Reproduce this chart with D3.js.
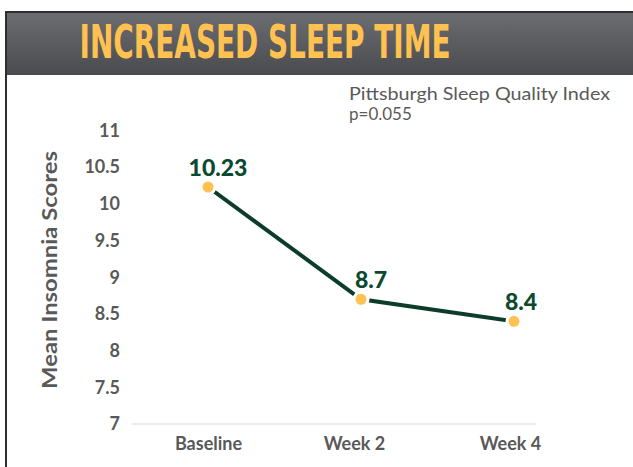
<!DOCTYPE html>
<html>
<head>
<meta charset="utf-8">
<script src="https://cdn.jsdelivr.net/npm/d3@7"></script>
<style>
  body { margin: 0; background: #fff; }
  svg { display: block; }
</style>
</head>
<body>
<svg id="chart" width="633" height="467"></svg>
<script>
// data
const weeks = ["Baseline", "Week 2", "Week 4"]
const scores = [10.23, 8.7, 8.4]
const score_labels = ["10.23", "8.7", "8.4"]
const y_ticks = [7, 7.5, 8, 8.5, 9, 9.5, 10, 10.5, 11]

const svg = d3.select("#chart")
const grey_text = "#595959"
const dark_green = "#0b4a2f"
const yellow = "#ffc14f"
const font = "Lato, 'Open Sans', sans-serif"

// banner gradient
const defs = svg.append("defs")
const grad = defs.append("linearGradient")
  .attr("id", "banner_grad")
  .attr("x1", 0).attr("y1", 0).attr("x2", 0).attr("y2", 1)
grad.append("stop").attr("offset", "0%").attr("stop-color", "#6c6d71")
grad.append("stop").attr("offset", "100%").attr("stop-color", "#4a4b4e")

svg.append("rect")
  .attr("x", 6).attr("y", 12)
  .attr("width", 627).attr("height", 63)
  .attr("fill", "url(#banner_grad)")

// frame lines
svg.append("line")
  .attr("x1", 6).attr("x2", 633).attr("y1", 12).attr("y2", 12)
  .attr("stroke", "#2e2e2e").attr("stroke-width", 2)
svg.append("line")
  .attr("x1", 6).attr("x2", 6).attr("y1", 11).attr("y2", 467)
  .attr("stroke", "#2e2e2e").attr("stroke-width", 2)

svg.append("text")
  .attr("x", 265).attr("y", 58)
  .attr("text-anchor", "middle")
  .attr("font-family", "'Liberation Sans Narrow', 'DejaVu Sans Condensed', sans-serif")
  .attr("font-stretch", "condensed")
  .attr("font-weight", "bold")
  .attr("font-size", 46)
  .attr("textLength", 371)
  .attr("lengthAdjust", "spacingAndGlyphs")
  .attr("fill", yellow)
  .text("INCREASED SLEEP TIME")

// scales
const x = d3.scalePoint().domain(weeks).range([208, 514])
const y = d3.scaleLinear().domain([7, 11]).range([424, 130.5])

// baseline axis line
svg.append("line")
  .attr("x1", 132).attr("x2", 536)
  .attr("y1", y(7)).attr("y2", y(7))
  .attr("stroke", "#d9d9d9").attr("stroke-width", 1)

// y axis
const y_axis = svg.append("g")
  .attr("transform", "translate(128,0)")
  .call(d3.axisLeft(y).tickValues(y_ticks).tickSize(0).tickPadding(8).tickFormat(d3.format("")))
y_axis.select(".domain").remove()
y_axis.selectAll("text")
  .attr("font-family", font)
  .attr("font-weight", "bold")
  .attr("font-size", 18)
  .attr("fill", grey_text)

// x axis
const x_axis = svg.append("g")
  .attr("transform", `translate(0, ${y(7)})`)
  .call(d3.axisBottom(x).tickSize(0).tickPadding(13))
x_axis.select(".domain").remove()
x_axis.selectAll("text")
  .attr("font-family", font)
  .attr("font-weight", "bold")
  .attr("font-size", 18)
  .attr("fill", grey_text)
  .attr("dx", (d, i) => i == 0 ? 0 : (i == 1 ? -7 : -4))

// axis title
svg.append("text")
  .attr("transform", "translate(57, 270) rotate(-90)")
  .attr("text-anchor", "middle")
  .attr("font-family", font)
  .attr("font-weight", "bold")
  .attr("font-size", 21)
  .attr("textLength", 238)
  .attr("lengthAdjust", "spacingAndGlyphs")
  .attr("fill", grey_text)
  .text("Mean Insomnia Scores")

// annotation
svg.append("text")
  .attr("x", 349).attr("y", 100)
  .attr("font-family", font)
  .attr("font-size", 17)
  .attr("textLength", 261)
  .attr("lengthAdjust", "spacingAndGlyphs")
  .attr("fill", grey_text)
  .text("Pittsburgh Sleep Quality Index")
svg.append("text")
  .attr("x", 349).attr("y", 120)
  .attr("font-family", font)
  .attr("font-size", 17)
  .attr("fill", grey_text)
  .text("p=0.055")

// line
const pts = weeks.map((w, i) => [x(w), y(scores[i])])
svg.append("path")
  .datum(pts)
  .attr("d", d3.line())
  .attr("fill", "none")
  .attr("stroke", "#0d3d2a")
  .attr("stroke-width", 4)

svg.selectAll(".dot")
  .data(pts)
  .enter()
  .append("circle")
  .attr("class", "dot")
  .attr("cx", d => d[0])
  .attr("cy", d => d[1])
  .attr("r", 5.5)
  .attr("fill", yellow)
  .attr("stroke", "#fff")
  .attr("stroke-width", 6)
  .attr("paint-order", "stroke")

svg.selectAll(".val")
  .data(pts)
  .enter()
  .append("text")
  .attr("class", "val")
  .attr("x", (d, i) => d[0] + (i == 2 ? 7 : 10))
  .attr("y", d => d[1] - 11)
  .attr("text-anchor", "middle")
  .attr("font-family", font)
  .attr("font-weight", 900)
  .attr("font-size", 23)
  .attr("fill", dark_green)
  .text((d, i) => score_labels[i])
</script>
</body>
</html>
